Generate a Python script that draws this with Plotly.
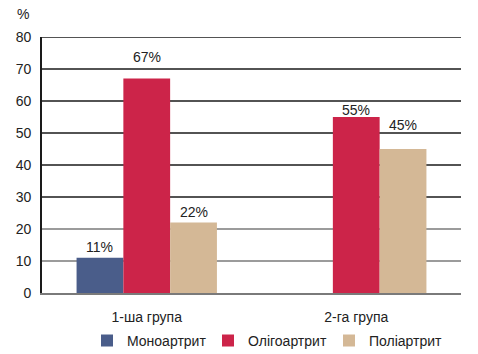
import plotly.graph_objects as go

categories = ["1-ша група", "2-га група"]
series_names = ["Моноартрит", "Олігоартрит", "Поліартрит"]
mono = [11, 0]
oligo = [67, 55]
poly = [22, 45]
mono_labels = ["11%", ""]
oligo_labels = ["67%", "55%"]
poly_labels = ["22%", "45%"]
colors = ["#4a5d8a", "#cc2449", "#d4b896"]
y_ticks = [0, 10, 20, 30, 40, 50, 60, 70, 80]

# styling: vertical label offsets (px above bar top), per series/category
label_shift = [[11, 0], [22, 7], [11, 24]]

FONT = "Liberation Sans Narrow, Arial Narrow, Liberation Sans, Arial, sans-serif"
BARGAP = 0.33
bar_w = (1 - BARGAP) / 3

fig = go.Figure()
series = [mono, oligo, poly]
labels = [mono_labels, oligo_labels, poly_labels]
for name, vals, col in zip(series_names, series, colors):
    fig.add_trace(go.Bar(
        x=categories, y=vals, name=name, marker_color=col,
        marker_line_width=0,
    ))

annotations = []
for si, (vals, labs) in enumerate(zip(series, labels)):
    for ci, (v, lab) in enumerate(zip(vals, labs)):
        if not lab:
            continue
        annotations.append(dict(
            x=ci + (si - 1) * bar_w, y=v, xref="x", yref="y", text=lab,
            showarrow=False, yanchor="middle", yshift=label_shift[si][ci],
            font=dict(size=14, color="#222", family=FONT)))

annotations.append(dict(text="%", xref="paper", yref="paper", x=-0.045, y=1.09,
                        xanchor="center", yanchor="middle", showarrow=False,
                        font=dict(size=14, family=FONT, color="#222")))

shapes = []
for v in y_ticks:
    if v == 0:
        continue
    shapes.append(dict(type="line", xref="paper", yref="y", x0=0, x1=1, y0=v, y1=v,
                       line=dict(color="#1a1a1a" if v >= 30 else "#7a7a7a", width=1.6),
                       layer="below"))

fig.update_layout(
    width=478, height=354,
    margin=dict(l=42, r=17, t=37, b=61, autoexpand=False),
    paper_bgcolor="white", plot_bgcolor="white",
    barmode="group", bargap=BARGAP, bargroupgap=0,
    font=dict(family=FONT, size=14, color="#222"),
    showlegend=True,
    legend=dict(orientation="h", xref="container", yref="container",
                x=0.182, xanchor="left", y=0.037, yanchor="middle",
                entrywidth=76, entrywidthmode="pixels",
                font=dict(size=14, family=FONT, color="#222"),
                itemwidth=30, traceorder="normal"),
    xaxis=dict(showline=True, linecolor="#7a7a7a", linewidth=1.6, ticks="",
               ticklabelstandoff=10, tickfont=dict(size=14, family=FONT, color="#222")),
    yaxis=dict(range=[0, 80], tickvals=y_ticks, showgrid=False,
               showline=True, linecolor="#1a1a1a", linewidth=1.6, ticks="",
               zeroline=False, ticklabelstandoff=6,
               tickfont=dict(size=14, family=FONT, color="#222")),
    annotations=annotations,
    shapes=shapes,
)

fig.write_html("out.html")
